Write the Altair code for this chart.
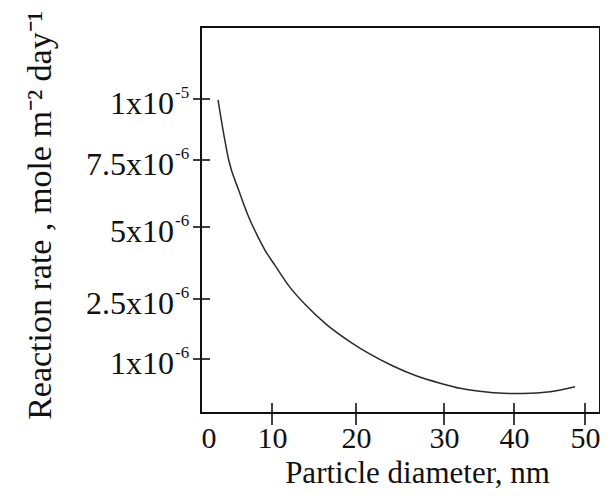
import altair as alt
import pandas as pd

# ---- data ----
diameter = [2.4, 3.1, 3.9, 5.3, 6.7, 8.1, 9.0, 10.4, 12.1, 14.1, 16.5, 19.3,
            21.6, 24.2, 26.9, 29.6, 32.3, 35.1, 38.5, 41.3, 45.1, 48.6]
rate = [9.96e-6, 8.73e-6, 7.5e-6, 6.38e-6, 5.38e-6, 4.62e-6, 4.20e-6, 3.65e-6,
        2.92e-6, 2.33e-6, 1.86e-6, 1.43e-6, 1.12e-6, 0.87e-6, 0.685e-6,
        0.55e-6, 0.457e-6, 0.402e-6, 0.365e-6, 0.361e-6, 0.394e-6, 0.487e-6]

x_ticks = [10, 20, 30, 40, 50]
x_labels = [0, 10, 20, 30, 40, 50]
y_ticks = [1e-6, 2.5e-6, 5e-6, 7.5e-6, 1e-5]
y_mantissa = ["1x10", "2.5x10", "5x10", "7.5x10", "1x10"]
y_exponent = ["-6", "-6", "-6", "-6", "-5"]

# hand-drawn (uneven) axis breakpoints of the original figure
x_domain = [0, 10, 20, 30, 40, 50, 52.1]
x_range = [0, 71, 155, 243, 313, 384, 399]
y_domain = [0, 1e-6, 2.5e-6, 5e-6, 7.5e-6, 1e-5, 1.3e-5]
y_range = [386, 332, 272, 200, 133, 72, 0]

W, H = 399, 386
FONT = "Liberation Serif"
INK = "#111111"

curve = pd.DataFrame({"d": diameter, "r": rate})
xt = pd.DataFrame({"v": x_ticks})
yt = pd.DataFrame({"v": y_ticks, "m": y_mantissa, "e": y_exponent})

xs = alt.Scale(domain=x_domain, range=x_range, nice=False, zero=False)
ys = alt.Scale(domain=y_domain, range=y_range, nice=False, zero=False)

line = alt.Chart(curve).mark_line(
    color="#2a2a2a", strokeWidth=1.5, interpolate="monotone"
).encode(
    x=alt.X("d:Q", scale=xs, axis=alt.Axis(
        values=x_labels, ticks=False, tickSize=0, domain=False, grid=False,
        labelFont=FONT, labelFontSize=30, labelColor=INK, labelPadding=10,
        labelBaseline="top", labelFlush=True,
        title="Particle diameter, nm", titleFont=FONT, titleFontSize=31,
        titleFontWeight="normal", titleColor=INK, titleX=216, titleY=69,
        titleBaseline="alphabetic", titleAlign="center")),
    y=alt.Y("r:Q", scale=ys, axis=alt.Axis(
        labels=False, ticks=False, tickSize=0, domain=False, grid=False,
        title="Reaction rate , mole m\u207b\u00b2 day\u207b\u00b9",
        titleFont=FONT, titleFontSize=34, titleFontWeight="normal",
        titleColor=INK, titleAngle=270, titleX=-151, titleY=188,
        titleAlign="center", titleBaseline="alphabetic")),
)

ytick_rules = alt.Chart(yt).mark_rule(color=INK, strokeWidth=1.6).encode(
    y=alt.Y("v:Q", scale=ys), x=alt.value(-8), x2=alt.value(9))

xtick_rules = alt.Chart(xt).mark_rule(color=INK, strokeWidth=1.6).encode(
    x=alt.X("v:Q", scale=xs), y=alt.value(H - 10), y2=alt.value(H + 12))

ylab_main = alt.Chart(yt).mark_text(
    font=FONT, fontSize=32, color=INK, align="right", baseline="alphabetic", dy=15
).encode(y=alt.Y("v:Q", scale=ys), x=alt.value(-27), text="m:N")

ylab_exp = alt.Chart(yt).mark_text(
    font=FONT, fontSize=17, color=INK, align="left", baseline="alphabetic", dy=-1
).encode(y=alt.Y("v:Q", scale=ys), x=alt.value(-26), text="e:N")

chart = alt.layer(line, ytick_rules, xtick_rules, ylab_main, ylab_exp).properties(
    width=W, height=H,
    padding={"left": 193, "top": 19, "right": 0, "bottom": 75},
    autosize=alt.AutoSizeParams(type="none"),
    background="white",
).configure_view(stroke=INK, strokeWidth=2)

chart.save("out.html", embed_options={"renderer": "svg", "actions": False})
